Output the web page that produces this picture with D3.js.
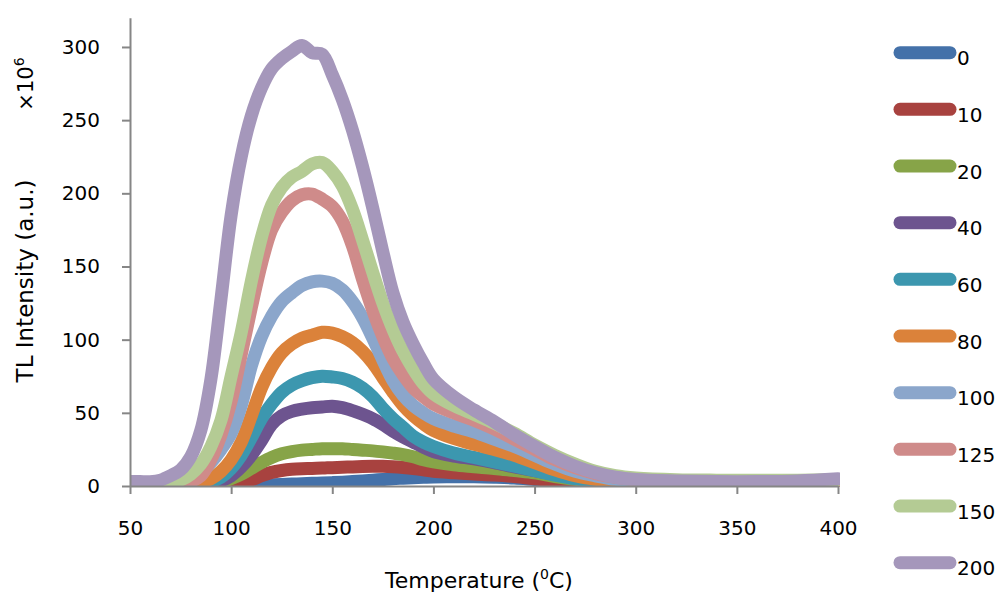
<!DOCTYPE html>
<html>
<head>
<meta charset="utf-8">
<script src="https://cdn.jsdelivr.net/npm/d3@7"></script>
<style>
  html, body { margin: 0; padding: 0; background: #fff; }
  svg { display: block; font-family: "DejaVu Sans", sans-serif; }
</style>
</head>
<body>
<svg id="chart" width="1000" height="596"></svg>
<script>
// ---- data ----
const temps = [50,55,60,65,70,75,80,85,90,95,100,105,110,115,120,125,130,135,140,145,150,155,160,165,170,175,180,185,190,195,200,210,220,230,240,250,260,270,280,290,300,320,340,360,380,400];
const seriesNames = ["0","10","20","40","60","80","100","125","150","200"];
const s0   = [0,0,0,0,0,0,0,0,0,0, 0,0.2,0.4,0.6,0.8,1,1.3,1.5,1.8,2, 2.3,2.6,3,3.5,4,4.5,5,5.3,5.6,5.9, 6.1,6.3,6.3,6,5.5,4.5,3.5,2.5,1.5,1, 0.6,0.3,0.2,0.2,0.2,0.2];
const s10  = [0,0,0,0,0,0,0,0,0,0.3, 1,2.2,4.2,7,9.3,10.6,11.4,11.8,12,12.3, 12.5,12.8,13,13.3,13.5,13.5,13.2,12.7,12,11, 10,9,8.2,7.5,6.5,5,3.5,2.5,1.5,1, 0.6,0.3,0.3,0.3,0.3,0.3];
const s20  = [0,0,0,0,0,0,0,0.4,1.2,2.8, 5,8,12,16,19.5,22,23.5,24.5,25,25.5, 25.5,25.5,25,24.5,24,23.3,22.5,21.5,20,18, 16.5,14.5,13.2,12,10.5,9,6.5,4.5,3,2, 1.3,0.8,0.5,0.5,0.5,0.5];
const s40  = [0,0,0,0,0,0,0,0.5,1.5,3.5, 7,13,21,31,42,48,51,52.5,53.5,54, 54.5,53.5,51.5,49,46,42,37.5,33.5,30,26.5, 23.5,20.5,18.5,16,13,10.5,8,5.5,3.5,2.2, 1.5,1,0.7,0.7,0.7,0.7];
const s60  = [0,0,0,0,0,0,0.5,1,3,6, 12,21,33,46,56,64,69,72,74,75, 74.5,73.5,71,67,61,53,46,40,34,30, 27,22.5,19.5,16.5,13.5,10.5,7.5,5,3.2,2.2, 1.6,1.2,1,1,1,1];
const s80  = [0,0,0,0,0,0,1,2.5,5,10, 18,30,48,67,81,91,97,101,103,105, 104.5,102,98,92,84,74,64,55,48,42.5, 38,32.5,28.5,25,21,16,11,7,4.5,3, 2.2,1.5,1.2,1.2,1.2,1.2];
const s100 = [0,0,0,0,0.5,1.5,4,9,16,25, 36,55,82,102,116,126,132,137,139.5,140, 138.5,134,126,115,101,86,72,62,55,50, 46,41,37,32,27,21,15,10,7,4.5, 3.3,2.5,2.3,2.3,2.3,2.3];
const s125 = [0,0,0,0,0,1,3,7,18,35, 58,90,122,152,175,187,195,199,199.5,196, 191,181,164,141,120,102,87,76,67,61, 56,50,45,39,32,25,18,12.5,8.5,6, 4.5,3.5,3,3,3,3];
const s150 = [0,0,0.5,1,2,4,8,15,27,45, 75,105,140,170,192,204,211,215,220,221, 215,205,189,168,146,125,107,92,80,70, 63,55,49,43,36,28,21,15,10,7, 5.5,4.3,4,4,4,4.5];
const s200 = [3,3,3,4,7,11,20,38,73,128, 185,225,253,272,285,292,297,301,296,295, 281,264,243,218,190,160,132,112,97,84, 73,61,52,44,35,27,19.5,13.5,9,6, 4.5,3.5,3,3,3.5,5];
const seriesValues = [s0,s10,s20,s40,s60,s80,s100,s125,s150,s200];
const colors = ["#4471a9","#a8423f","#87a448","#6d548f","#3c97af","#db823a","#8ba6cb","#cf8b8a","#b4cb94","#a597bb"];
const yTicks = [0,50,100,150,200,250,300];
const xTicks = [50,100,150,200,250,300,350,400];

// ---- chart ----
const svg = d3.select("#chart");
const x = d3.scaleLinear().domain([50,400]).range([130,838]);
const y = d3.scaleLinear().domain([0,320]).range([486,17.7]);

svg.append("defs").append("clipPath").attr("id","plotclip")
  .append("rect").attr("x",130).attr("y",0).attr("width",710).attr("height",487);

const line = d3.line()
  .x((d,i) => x(temps[i]))
  .y(d => y(d))
  .curve(d3.curveCatmullRom.alpha(0.5));

const plot = svg.append("g").attr("clip-path","url(#plotclip)");
seriesValues.forEach((vals, k) => {
  plot.append("path")
    .datum(vals)
    .attr("d", line)
    .attr("fill","none")
    .attr("stroke", colors[k])
    .attr("stroke-width", 13)
    .attr("stroke-linejoin","round")
    .attr("stroke-linecap","round");
});

// axes
const axisColor = "#868686";
const yAxis = svg.append("g").attr("transform","translate(130,0)")
  .call(d3.axisLeft(y).tickValues(yTicks).tickSize(8).tickSizeOuter(0).tickPadding(22));
const xAxis = svg.append("g").attr("transform","translate(0,486)")
  .call(d3.axisBottom(x).tickValues(xTicks).tickSize(8).tickSizeOuter(0).tickPadding(27));
[xAxis, yAxis].forEach(g => {
  g.select(".domain").attr("stroke", axisColor).attr("stroke-width", 2);
  g.selectAll(".tick line").attr("stroke", axisColor).attr("stroke-width", 2);
  g.selectAll(".tick text").attr("fill","#000").attr("font-size",20).attr("font-family","DejaVu Sans");
});

// axis titles
const xt = svg.append("text").attr("x",479).attr("y",588).attr("text-anchor","middle")
  .attr("font-size",22).attr("fill","#000");
xt.append("tspan").text("Temperature (");
xt.append("tspan").attr("font-size",14).attr("dy",-9).text("0");
xt.append("tspan").attr("dy",9).text("C)");

svg.append("text").attr("transform","translate(33,281) rotate(-90)").attr("text-anchor","middle")
  .attr("font-size",23).attr("fill","#000").text("TL Intensity (a.u.)");

const mt = svg.append("text").attr("transform","translate(33,84) rotate(-90)").attr("text-anchor","middle")
  .attr("font-size",21).attr("fill","#000");
mt.append("tspan").text("×10");
mt.append("tspan").attr("font-size",14).attr("dy",-9).text("6");

// legend
const ly = d3.scalePoint().domain(seriesNames).range([52.7,562.7]);
const leg = svg.append("g");
seriesNames.forEach((n,k) => {
  leg.append("line").attr("x1",900).attr("x2",950).attr("y1",ly(n)).attr("y2",ly(n))
    .attr("stroke",colors[k]).attr("stroke-width",13).attr("stroke-linecap","round");
  leg.append("text").attr("x",957).attr("y",ly(n)+12.5).attr("font-size",20).attr("fill","#000").text(n);
});
</script>
</body>
</html>
